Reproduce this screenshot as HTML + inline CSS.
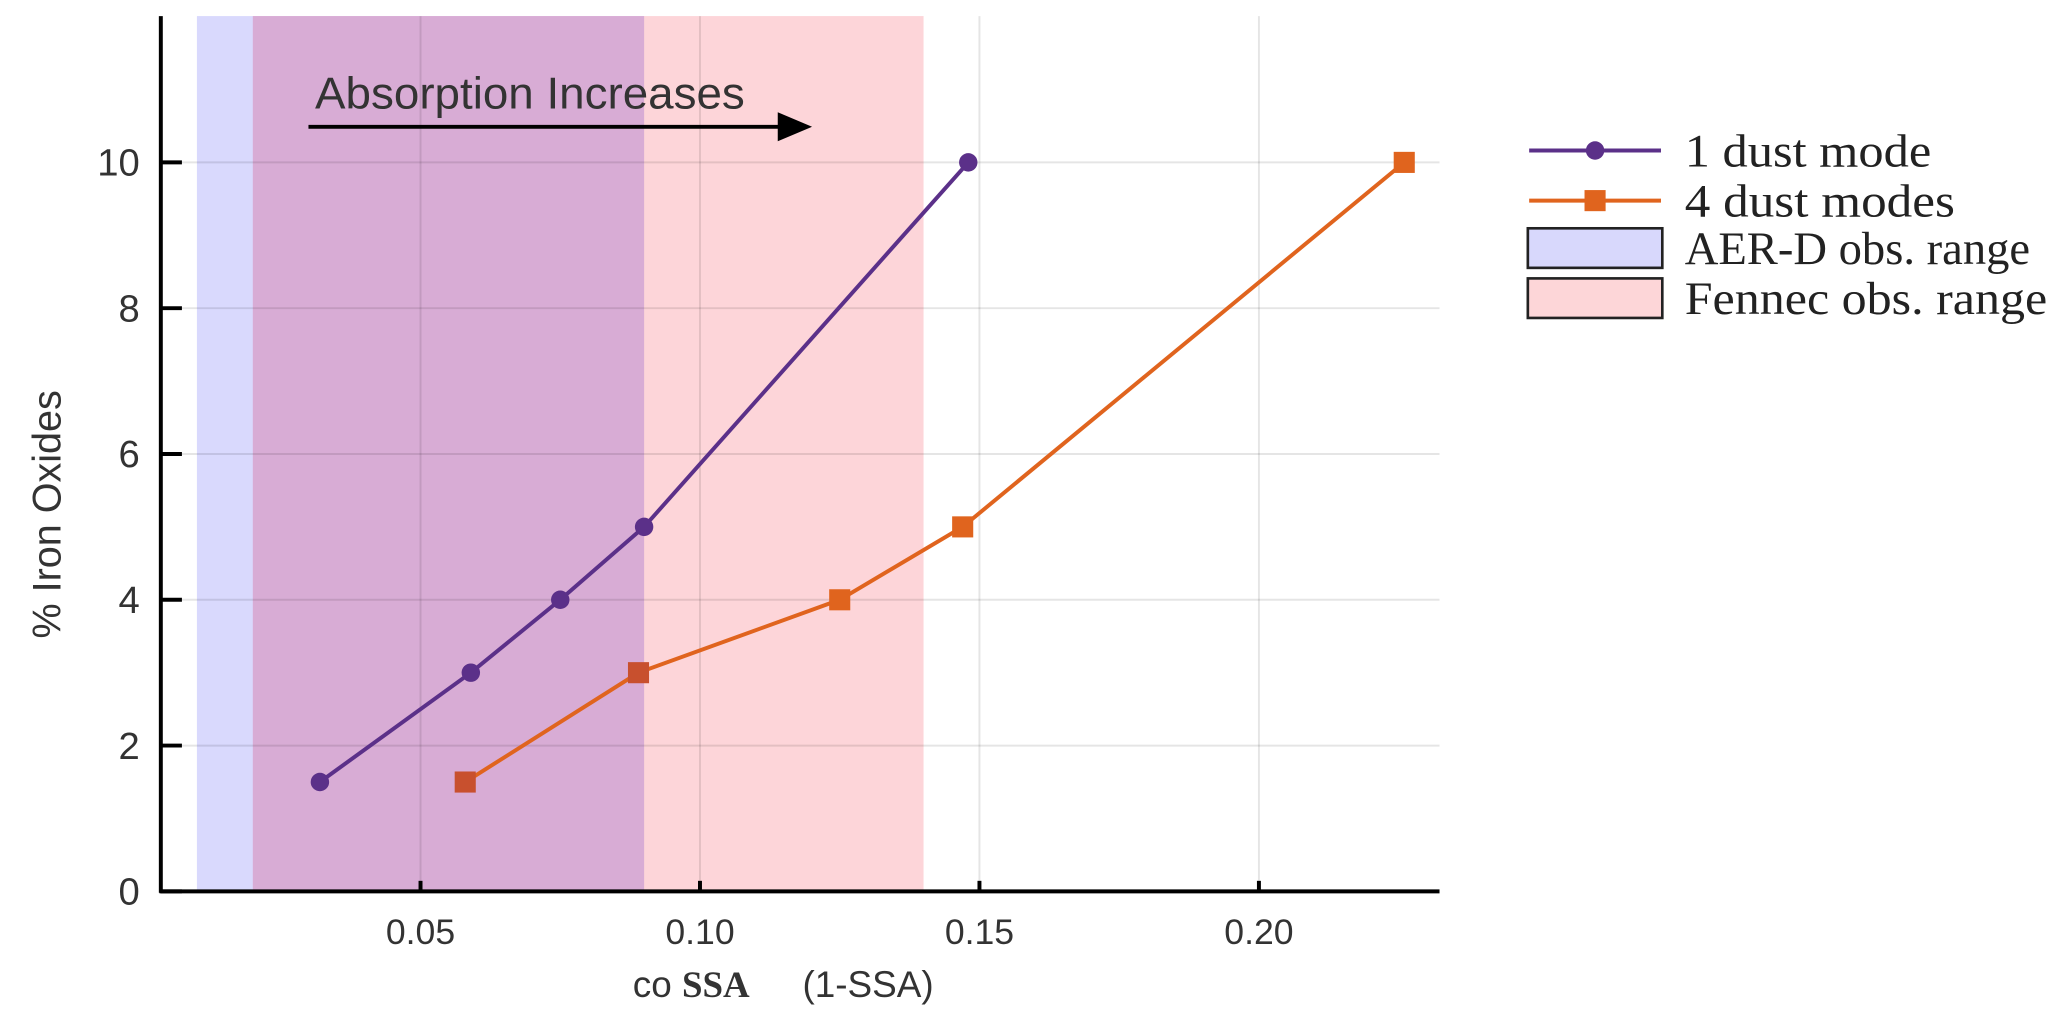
<!DOCTYPE html>
<html><head><meta charset="utf-8"><style>
body{margin:0;background:#fff;width:2067px;height:1034px;overflow:hidden}
svg{font-family:"Liberation Sans",sans-serif;display:block}
</style></head><body>
<svg width="2067" height="1034" viewBox="0 0 1568 784" id="c">
<g id="bands"></g><g id="grid"></g><g id="series"></g><g id="axes"></g>
<g>
<text x="239" y="82" font-size="34" fill="#333" textLength="326" lengthAdjust="spacingAndGlyphs">Absorption Increases</text>
<line x1="234" y1="96" x2="596" y2="96" stroke="#000" stroke-width="3"/>
<polygon points="590,85 616,96 590,107" fill="#000"/>
</g>
<text transform="translate(46,390) rotate(-90)" text-anchor="middle" font-size="30" fill="#333">% Iron Oxides</text>
<text x="480" y="756" font-size="28" fill="#333">co <tspan font-family="Liberation Serif" font-weight="bold">SSA</tspan><tspan dx="40">(1-SSA)</tspan></text>
<g font-family="Liberation Serif" font-size="35" fill="#222">
<g><line x1="1160" y1="114" x2="1260" y2="114" stroke="#5b3089" stroke-width="3"/><circle cx="1210" cy="114" r="7" fill="#5b3089"/><text x="1278" y="126" textLength="187" lengthAdjust="spacingAndGlyphs">1 dust mode</text></g>
<g><line x1="1160" y1="152" x2="1260" y2="152" stroke="#e0641e" stroke-width="3"/><rect x="1202" y="144" width="16" height="16" fill="#e0641e"/><text x="1278" y="164" textLength="205" lengthAdjust="spacingAndGlyphs">4 dust modes</text></g>
<g><rect x="1159" y="173" width="102" height="30" fill="#d8d8fc" stroke="#222" stroke-width="2"/><text x="1278" y="200" textLength="262" lengthAdjust="spacingAndGlyphs">AER-D obs. range</text></g>
<g><rect x="1159" y="211" width="102" height="30" fill="#fdd6d8" stroke="#222" stroke-width="2"/><text x="1278" y="238" textLength="275" lengthAdjust="spacingAndGlyphs">Fennec obs. range</text></g>
</g>
</svg>
<script>
const xTicks=[0.05,0.10,0.15,0.20];
const xTickLabels=["0.05","0.10","0.15","0.20"];
const yTicks=[0,2,4,6,8,10];
const bandAerD=[0.01,0.09];
const bandFennec=[0.02,0.14];
const s1x=[0.032,0.059,0.075,0.090,0.148];
const s1y=[1.5,3,4,5,10];
const s2x=[0.058,0.089,0.125,0.147,0.226];
const s2y=[1.5,3,4,5,10];
const NS="http://www.w3.org/2000/svg";
const L=122,R=1092,T=12,B=676;
const X=v=>107+v*4240, Y=v=>676-v*55.3;
function mk(p,t,a){const e=document.createElementNS(NS,t);for(const k in a)e.setAttribute(k,a[k]);document.getElementById(p).appendChild(e);return e;}
let e;
e=mk('bands','rect',{x:X(bandAerD[0]),y:T,width:X(bandAerD[1])-X(bandAerD[0]),height:B-T,fill:'rgba(170,170,250,0.45)'});


e=mk('bands','rect',{x:X(bandFennec[0]),y:T,width:X(bandFennec[1])-X(bandFennec[0]),height:B-T,fill:'rgba(250,150,160,0.4)'});


e=mk('bands','rect',{x:X(bandFennec[0]),y:T,width:X(bandAerD[1])-X(bandFennec[0]),height:B-T,fill:'rgba(200,150,210,0.45)'});


xTicks.forEach((v,i)=>{
 e=mk('grid','line',{x1:X(v),x2:X(v),y1:T,y2:B,stroke:'rgba(0,0,0,0.1)','stroke-width':1.5});
 
 
 e=mk('axes','line',{x1:X(v),x2:X(v),y1:B,y2:B-8,stroke:'#000','stroke-width':3});
 e=mk('axes','text',{x:X(v),y:B+40,'text-anchor':'middle','font-size':27,fill:'#333'});e.textContent=xTickLabels[i];
 
 
});
yTicks.forEach(v=>{
 if(v>0){e=mk('grid','line',{x1:L,x2:R,y1:Y(v),y2:Y(v),stroke:'rgba(0,0,0,0.1)','stroke-width':1.5});
 
 }
 mk('axes','line',{x1:L,x2:L+16,y1:Y(v),y2:Y(v),stroke:'#000','stroke-width':3});
 e=mk('axes','text',{x:L-16,y:Y(v)+10,'text-anchor':'end','font-size':29,fill:'#333'});e.textContent=v;
 
 
});
e=mk('axes','line',{x1:L,x2:L,y1:T,y2:B+1,stroke:'#000','stroke-width':3});


e=mk('axes','line',{x1:L-1,x2:R,y1:B,y2:B,stroke:'#000','stroke-width':3});


e=mk('series','polyline',{points:s1x.map((x,i)=>X(x)+','+Y(s1y[i])).join(' '),fill:'none',stroke:'#5b3089','stroke-width':3});


e=mk('series','polyline',{points:s2x.map((x,i)=>X(x)+','+Y(s2y[i])).join(' '),fill:'none',stroke:'#e0641e','stroke-width':3});


s1x.forEach((x,i)=>{e=mk('series','circle',{cx:X(x),cy:Y(s1y[i]),r:7,fill:'#5b3089'});
 
 });
s2x.forEach((x,i)=>{e=mk('series','rect',{x:X(x)-8,y:Y(s2y[i])-8,width:16,height:16,fill:i<2?'#c8502e':'#e0641e'});
 
 });
</script>
</body></html>
